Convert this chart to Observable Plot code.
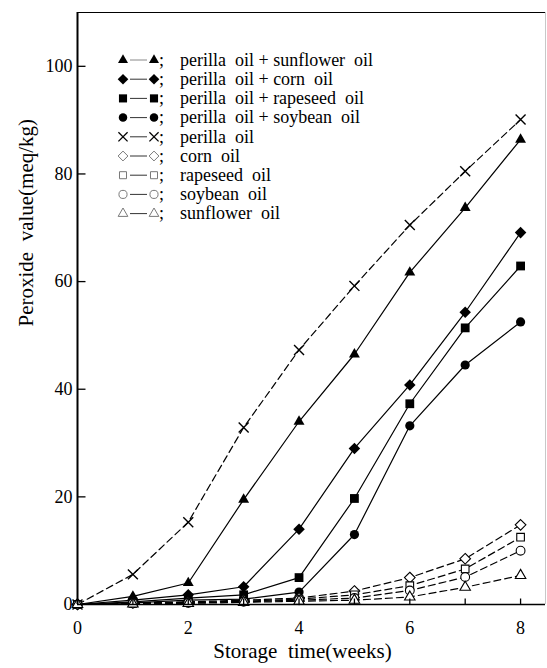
<!DOCTYPE html>
<html><head><meta charset="utf-8">
<script src="https://cdn.jsdelivr.net/npm/d3@7"></script>
<script src="https://cdn.jsdelivr.net/npm/@observablehq/plot@0.6"></script>
<style>body{margin:0;background:#fff} svg{display:block}</style>
</head><body><div id="chart"></div>
<script>
// ---- data ----
const weeks = [0, 1, 2, 3, 4, 5, 6, 7, 8];
const seriesNames = [
  "perilla oil+sunflower oil",
  "perilla oil+corn oil",
  "perilla oil+rapeseed oil",
  "perilla oil+soybean oil",
  "perilla oil",
  "corn oil",
  "rapeseed oil",
  "soybean oil",
  "sunflower oil"
];
const perillaSunflower = [0, 1.5, 4.0, 19.5, 34.0, 46.5, 61.7, 73.7, 86.4];
const perillaCorn      = [0, 0.8, 1.8, 3.3, 14.0, 29.0, 40.8, 54.3, 69.1];
const perillaRapeseed  = [0, 0.5, 1.2, 1.8, 5.0, 19.7, 37.3, 51.4, 62.9];
const perillaSoybean   = [0, 0.3, 0.8, 1.0, 2.3, 13.0, 33.2, 44.5, 52.5];
const perilla          = [0, 5.6, 15.3, 32.9, 47.3, 59.2, 70.5, 80.5, 90.1];
const corn             = [0, 0.3, 0.5, 0.8, 1.2, 2.5, 5.0, 8.5, 14.8];
const rapeseed         = [0, 0.2, 0.4, 0.6, 1.0, 1.8, 3.5, 6.6, 12.5];
const soybean          = [0, 0.2, 0.3, 0.5, 0.8, 1.2, 2.6, 5.1, 10.0];
const sunflower        = [0, 0.1, 0.2, 0.4, 0.6, 0.8, 1.4, 3.2, 5.4];
const xTicks = [0, 2, 4, 6, 8];
const yTicks = [0, 20, 40, 60, 80, 100];
const xTitle = "Storage time(weeks)";
const yTitle = "Peroxide value(meq/kg)";

const seriesValues = [perillaSunflower, perillaCorn, perillaRapeseed, perillaSoybean,
  perilla, corn, rapeseed, soybean, sunflower];

// ---- styles ----
const styles = [
  {symbol: "triangle2", r: 5.2, fill: "black", stroke: "none", dash: null},
  {symbol: "diamond2", r: 5.2, fill: "black", stroke: "none", dash: null},
  {symbol: "square2", r: 5.6, fill: "black", stroke: "none", dash: null},
  {symbol: "circle", r: 4.6, fill: "black", stroke: "none", dash: null},
  {symbol: "times", r: 4.6, fill: "none", stroke: "black", dash: "7,4", sw: 1.4},
  {symbol: "diamond2", r: 4.8, fill: "white", stroke: "black", dash: "7,4", sw: 1.1},
  {symbol: "square", r: 4.3, fill: "white", stroke: "black", dash: "7,4", sw: 1.1},
  {symbol: "circle", r: 4.4, fill: "white", stroke: "black", dash: "7,4", sw: 1.1},
  {symbol: "triangle", r: 3.9, fill: "white", stroke: "black", dash: "7,4", sw: 1.1}
];

const rows = seriesValues.map((vals, i) => weeks.map((w, j) => ({series: i, week: w, value: vals[j]})));

const tickUp = {draw(ctx) { ctx.moveTo(0, 0); ctx.lineTo(0, -6); }};
const tickRight = {draw(ctx) { ctx.moveTo(0, 0); ctx.lineTo(8, 0); }};

const font = "'Liberation Serif', 'Times New Roman', serif";

const marks = [];
marks.push(Plot.ruleY([110], {stroke: "black", strokeWidth: 1.2}));
marks.push(Plot.ruleX([8.45], {stroke: "#c8c8c8", strokeWidth: 1}));
rows.forEach((data, i) => {
  const s = styles[i];
  marks.push(Plot.line(data, {x: "week", y: "value", stroke: "black", strokeWidth: 1.2,
    strokeDasharray: s.dash || undefined}));
});
rows.forEach((data, i) => {
  const s = styles[i];
  marks.push(Plot.dot(data, {x: "week", y: "value", symbol: s.symbol, r: s.r,
    fill: s.fill, stroke: s.stroke, strokeWidth: s.sw || 1}));
});
marks.push(Plot.ruleX([0], {stroke: "black", strokeWidth: 2}));
marks.push(Plot.ruleY([0], {stroke: "black", strokeWidth: 1.6}));
marks.push(Plot.dot(weeks.slice(1), {x: d => d, frameAnchor: "bottom", symbol: tickUp, r: 3, stroke: "black", fill: "none", strokeWidth: 1.3}));
marks.push(Plot.dot(yTicks.slice(1), {y: d => d, frameAnchor: "left", symbol: tickRight, r: 3, stroke: "black", fill: "none", strokeWidth: 1.3}));
marks.push(Plot.text([xTitle.replace(" ", "\u00a0 ")], {text: d => d, frameAnchor: "bottom", dx: -9, dy: 53, fontSize: 21, fill: "black"}));
marks.push(Plot.text([yTitle.replace(" ", "\u00a0 ")], {text: d => d, frameAnchor: "left", rotate: -90, dx: -51, dy: 18, fontSize: 21, fill: "black"}));

const plot = Plot.plot({
  width: 547,
  height: 668,
  marginLeft: 77,
  marginRight: 2,
  marginTop: 12,
  marginBottom: 64,
  style: {fontSize: "18px", fontFamily: font, color: "black", background: "white"},
  x: {domain: [0, 8.45], ticks: xTicks, tickSize: 0, tickPadding: 17, label: null, tickFormat: d => String(d)},
  y: {domain: [0, 110], ticks: yTicks, tickSize: 0, tickPadding: 5, label: null, tickFormat: d => String(d)},
  marks
});

// ---- legend ----
const symMap = {
  triangle2: d3.symbolTriangle2, diamond2: d3.symbolDiamond2, square2: d3.symbolSquare2,
  circle: d3.symbolCircle, times: d3.symbolTimes, square: d3.symbolSquare, triangle: d3.symbolTriangle
};
const lg = d3.select(plot).append("g").attr("font-family", font).attr("font-size", 18)
  .attr("text-anchor", "start").attr("fill", "black");
seriesNames.forEach((name, i) => {
  const s = styles[i];
  const y = 60 + i * 19.2;
  const light = i >= 5;
  const path = d3.symbol(symMap[s.symbol], Math.PI * s.r * s.r * 0.85)();
  [123, 154].forEach(x => {
    lg.append("path").attr("d", path).attr("transform", `translate(${x},${y})`)
      .attr("fill", s.fill === "black" ? "black" : (s.symbol === "times" ? "none" : "white"))
      .attr("stroke", s.stroke === "none" ? "none" : (light ? "#777" : "black"))
      .attr("stroke-width", s.sw ? s.sw * 0.9 : 1);
  });
  lg.append("line").attr("x1", 130).attr("x2", 147).attr("y1", y).attr("y2", y)
    .attr("stroke", i === 0 ? "#888" : "#333").attr("stroke-width", 1);
  lg.append("text").attr("x", 159).attr("y", y).attr("dy", "0.32em").attr("text-anchor", "start").text(";");
  lg.append("text").attr("x", 180).attr("y", y).attr("dy", "0.32em").attr("text-anchor", "start")
    .text(name.replace(/\+/g, " + ").replace(/ oil/g, "\u00a0 oil").replace("+\u00a0 ", "+ ").replace(/^\u00a0 /, ""));
});

document.getElementById("chart").appendChild(plot);
</script>
</body></html>
